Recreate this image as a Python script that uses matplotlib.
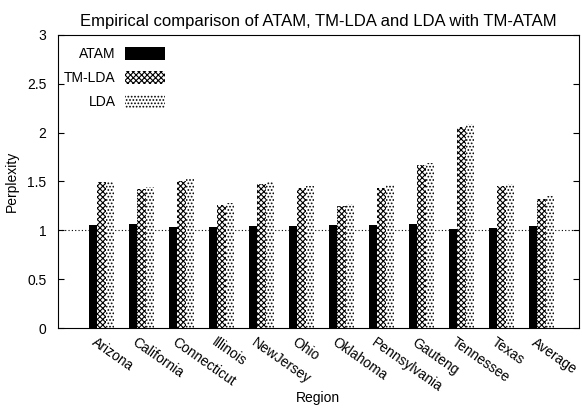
import numpy as np
import matplotlib.pyplot as plt

plt.rcParams['font.family'] = ['Liberation Sans', 'DejaVu Sans']
plt.rcParams['hatch.linewidth'] = 0.8

regions = ["Arizona", "California", "Connecticut", "Illinois", "NewJersey", "Ohio",
           "Oklahoma", "Pennsylvania", "Gauteng", "Tennessee", "Texas", "Average"]
atam = [1.06, 1.065, 1.04, 1.04, 1.05, 1.05, 1.055, 1.06, 1.07, 1.01, 1.03, 1.045]
tmlda = [1.49, 1.42, 1.50, 1.26, 1.47, 1.43, 1.25, 1.43, 1.67, 2.06, 1.45, 1.32]
lda = [1.51, 1.44, 1.525, 1.28, 1.49, 1.45, 1.27, 1.46, 1.69, 2.09, 1.47, 1.35]

x = np.arange(len(regions))
w = 0.21

fig, ax = plt.subplots(figsize=(5.82, 4.12), dpi=100)
fig.subplots_adjust(left=0.099, right=0.994, top=0.916, bottom=0.203)

ax.bar(x - w, atam, w, color='black', linewidth=0, label='ATAM')
ax.bar(x, tmlda, w, color='white', edgecolor='black', hatch='xxxxxx', linewidth=0, label='TM-LDA')
ax.bar(x + w, lda, w, color='white', edgecolor='black', hatch='.....', linewidth=0, label='LDA')

ax.axhline(1, color='black', linestyle=(0, (1, 2)), linewidth=0.8, zorder=0)

ax.set_xlim(-1.1, 11.925)
ax.set_ylim(0, 3)
ax.set_yticks([0, 0.5, 1, 1.5, 2, 2.5, 3])
ax.set_yticklabels(['0', '0.5', '1', '1.5', '2', '2.5', '3'])
ax.tick_params(axis='y', direction='in', right=True, length=4, labelsize=10, pad=8)
ax.set_xticks(x - w / 2)
ax.set_xticklabels(regions, rotation=-35, ha='left', va='top', rotation_mode='anchor', fontsize=10)
ax.tick_params(axis='x', length=0, pad=5)

ax.set_title("Empirical comparison of ATAM, TM-LDA and LDA with TM-ATAM", fontsize=12, pad=6)
ax.set_ylabel("Perplexity", fontsize=10, labelpad=6)
ax.set_xlabel("Region", fontsize=10, va='top')
ax.xaxis.set_label_coords(0.5, -0.213)

ax.legend(loc='upper left', frameon=False, markerfirst=False, fontsize=10,
          handlelength=2.9, handleheight=1.0, labelspacing=0.72, handletextpad=0.7,
          bbox_to_anchor=(-0.012, 1.0))

plt.savefig('out.png')
